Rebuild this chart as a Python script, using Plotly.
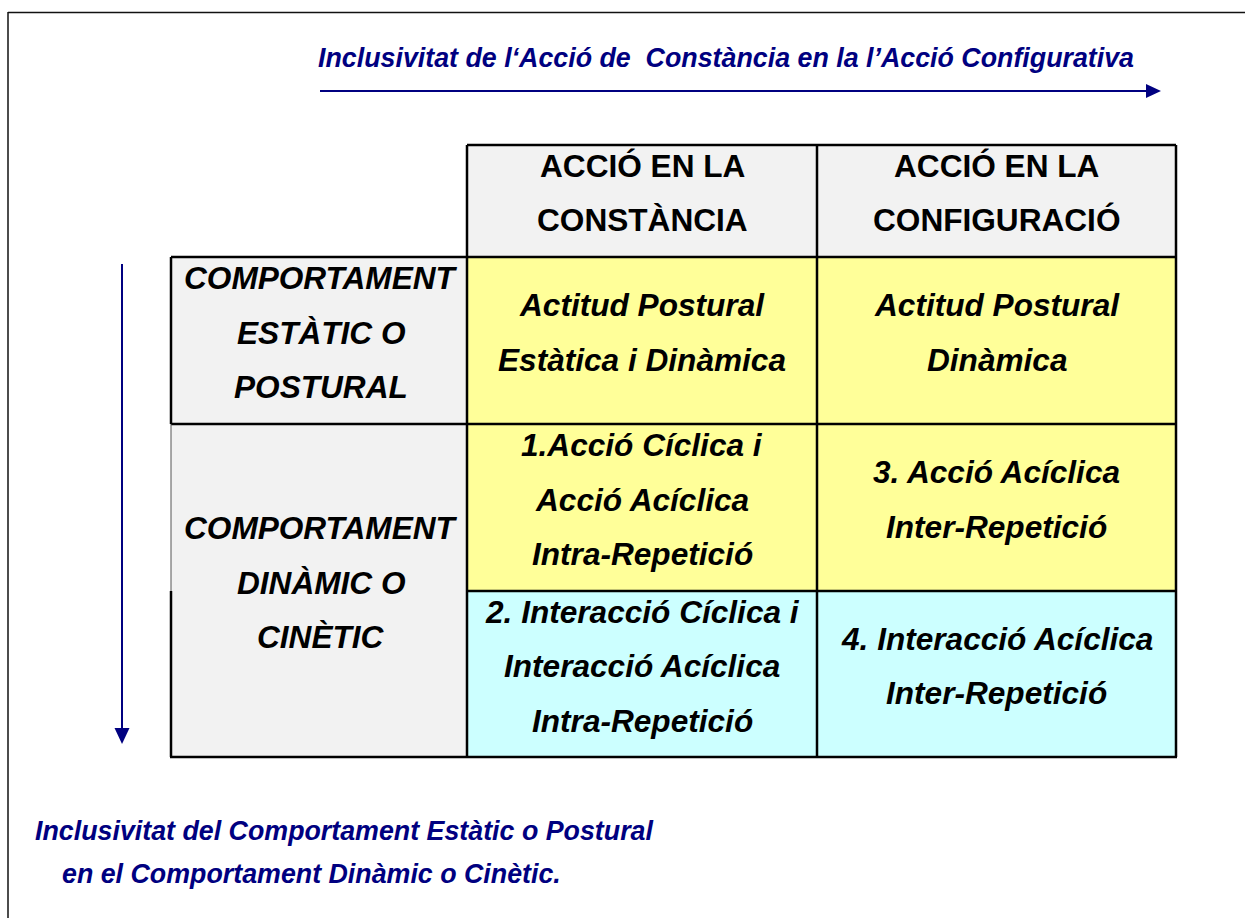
import plotly.graph_objects as go

# ---------------- data (texts) ----------------
top_caption = "Inclusivitat de l\u2018Acci\u00f3 de\u00a0 Const\u00e0ncia en la l\u2019Acci\u00f3 Configurativa"
bottom_caption = ["Inclusivitat del Comportament Est\u00e0tic o Postural",
                  "en el Comportament Din\u00e0mic o Cin\u00e8tic."]
col_headers = [["ACCI\u00d3 EN LA", "CONST\u00c0NCIA"],
               ["ACCI\u00d3 EN LA", "CONFIGURACI\u00d3"]]
row_headers = [["COMPORTAMENT", "EST\u00c0TIC O", "POSTURAL"],
               ["COMPORTAMENT", "DIN\u00c0MIC O", "CIN\u00c8TIC"]]
cell_texts = [
    [["Actitud Postural", "Est\u00e0tica i Din\u00e0mica"], ["Actitud Postural", "Din\u00e0mica"]],
    [["1.Acci\u00f3 C\u00edclica i", "Acci\u00f3 Ac\u00edclica", "Intra-Repetici\u00f3"],
     ["3. Acci\u00f3 Ac\u00edclica", "Inter-Repetici\u00f3"]],
    [["2. Interacci\u00f3 C\u00edclica i", "Interacci\u00f3 Ac\u00edclica", "Intra-Repetici\u00f3"],
     ["4. Interacci\u00f3 Ac\u00edclica", "Inter-Repetici\u00f3"]],
]

# ---------------- layout / style ----------------
W, H = 1245, 918
FONT = "Arial, 'Liberation Sans', sans-serif"
NAVY = "#000080"
GRAY = "#F2F2F2"
YELLOW = "#FFFF99"
CYAN = "#CCFFFF"
cell_colors = [[YELLOW, YELLOW], [YELLOW, YELLOW], [CYAN, CYAN]]

col_x = [171, 467, 817, 1176]          # label col | col1 | col2
row_y = [145, 257, 424, 591, 757]      # header | r1 | r2 | r3
row_header_spans = [(1, 2), (2, 4)]    # row indices (in row_y) covered by each row header
PITCH = 54.5
TABLE_FS = 31.6
CAP_FS = 26.8
BORDER = 2.5

shapes = []
annotations = []


def rect(x0, y0, x1, y1, fill):
    shapes.append(dict(type="rect", xref="x", yref="y", x0=x0, y0=y0, x1=x1, y1=y1,
                       fillcolor=fill, line=dict(width=0), layer="below"))


def line(x0, y0, x1, y1, w=BORDER, color="black"):
    shapes.append(dict(type="line", xref="x", yref="y", x0=x0, y0=y0, x1=x1, y1=y1,
                       line=dict(color=color, width=w)))


def text_block(lines, cx, cy, size, bold=True, italic=True, color="black"):
    n = len(lines)
    for i, t in enumerate(lines):
        y = cy + (i - (n - 1) / 2) * PITCH
        s = t
        if italic:
            s = "<i>" + s + "</i>"
        if bold:
            s = "<b>" + s + "</b>"
        annotations.append(dict(x=cx, y=y, xref="x", yref="y", text=s, showarrow=False,
                                xanchor="center", yanchor="middle",
                                font=dict(family=FONT, size=size, color=color)))


# cell fills
rect(col_x[1], row_y[0], col_x[3], row_y[1], GRAY)
rect(col_x[0], row_y[1], col_x[1], row_y[4], GRAY)
for r in range(3):
    for c in range(2):
        rect(col_x[c + 1], row_y[r + 1], col_x[c + 2], row_y[r + 2], cell_colors[r][c])

# borders
line(col_x[1], row_y[0], col_x[3], row_y[0])
line(col_x[0], row_y[1], col_x[3], row_y[1])
line(col_x[0], row_y[2], col_x[3], row_y[2])
line(col_x[1], row_y[3], col_x[3], row_y[3])
line(col_x[0] - 1, row_y[4], col_x[3] + 1, row_y[4])
line(col_x[0], row_y[1], col_x[0], row_y[2])
line(col_x[0], row_y[2], col_x[0], row_y[3], w=1, color="#555555")
line(col_x[0], row_y[3], col_x[0], row_y[4])
for x in col_x[1:]:
    line(x, row_y[0], x, row_y[4])

OFF = -8
# column headers
for c, lines_ in enumerate(col_headers):
    cx = (col_x[c + 1] + col_x[c + 2]) / 2
    cy = (row_y[0] + row_y[1]) / 2 + OFF
    text_block(lines_, cx, cy, TABLE_FS, bold=True, italic=False)

# row headers
for (a, b), lines_ in zip(row_header_spans, row_headers):
    cx = (col_x[0] + col_x[1]) / 2 + 2
    cy = (row_y[a] + row_y[b]) / 2 + OFF
    text_block(lines_, cx, cy, TABLE_FS)

# body cells
for r in range(3):
    for c in range(2):
        cx = (col_x[c + 1] + col_x[c + 2]) / 2
        cy = (row_y[r + 1] + row_y[r + 2]) / 2 + OFF
        text_block(cell_texts[r][c], cx, cy, TABLE_FS)

# captions
annotations.append(dict(x=316, y=58, xref="x", yref="y", text="<b><i>" + top_caption + "</i></b>",
                        showarrow=False, xanchor="left", yanchor="middle",
                        font=dict(family=FONT, size=CAP_FS, color=NAVY)))
for (x, y), t in zip([(33, 831), (60, 874)], bottom_caption):
    annotations.append(dict(x=x, y=y, xref="x", yref="y", text="<b><i>" + t + "</i></b>",
                            showarrow=False, xanchor="left", yanchor="middle",
                            font=dict(family=FONT, size=CAP_FS, color=NAVY)))

# arrows
line(320, 91, 1148, 91, w=2, color=NAVY)
shapes.append(dict(type="path", xref="x", yref="y", path="M 1146 84 L 1161 91 L 1146 98 Z",
                   fillcolor=NAVY, line=dict(color=NAVY, width=0)))
line(122, 264, 122, 730, w=2, color=NAVY)
shapes.append(dict(type="path", xref="x", yref="y", path="M 114.5 728 L 122 744 L 129.5 728 Z",
                   fillcolor=NAVY, line=dict(color=NAVY, width=0)))

# outer frame
line(8, 12.5, W + 2, 12.5, w=1.5, color="#111111")
line(8, 12, 8, H + 2, w=1.5, color="#111111")

fig = go.Figure()
fig.update_layout(
    width=W, height=H, margin=dict(l=0, r=0, t=0, b=0),
    paper_bgcolor="white", plot_bgcolor="white",
    xaxis=dict(range=[0, W], visible=False, fixedrange=True),
    yaxis=dict(range=[H, 0], visible=False, fixedrange=True),
    shapes=shapes, annotations=annotations, showlegend=False,
)
fig.write_html("out.html", config={"displayModeBar": False, "staticPlot": True},
               post_script="document.body.style.margin='0';document.body.style.overflow='hidden';")
